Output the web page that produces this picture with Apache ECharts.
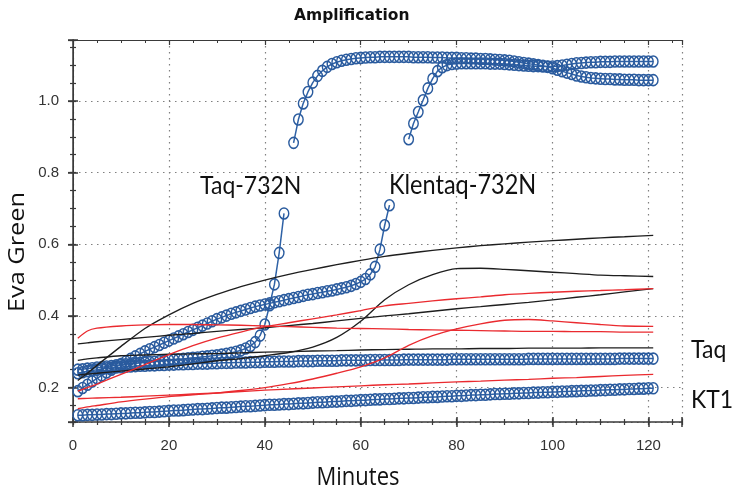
<!DOCTYPE html>
<html><head><meta charset="utf-8">
<script src="https://cdn.jsdelivr.net/npm/echarts@6/dist/echarts.min.js"></script>
<style>html,body{margin:0;padding:0;background:#fff}#c{width:739px;height:493px}</style>
</head><body><div id="c"></div>
<script>
// ---------- data ----------
const minutes = Array.from({length: 121}, (_, i) => i + 1);

const taq732N = [
0.250,0.251,0.253,0.254,0.256,0.257,0.259,0.260,0.262,0.263,
0.265,0.266,0.267,0.269,0.270,0.271,0.272,0.274,0.275,0.277,
0.278,0.279,0.280,0.282,0.283,0.284,0.286,0.287,0.289,0.290,
0.292,0.294,0.297,0.300,0.304,0.309,0.316,0.327,0.345,0.376,
0.430,0.488,0.576,0.686,null,0.883,0.948,0.993,1.025,1.051,
1.070,1.084,1.095,1.103,1.108,1.112,1.115,1.117,1.119,1.120,
1.121,1.122,1.122,1.123,1.123,1.123,1.123,1.123,1.123,1.123,
1.122,1.122,1.122,1.122,1.121,1.121,1.121,1.120,1.120,1.120,
1.119,1.119,1.118,1.118,1.117,1.117,1.116,1.115,1.114,1.113,
1.112,1.110,1.108,1.106,1.104,1.102,1.100,1.098,1.095,1.091,
1.087,1.083,1.079,1.075,1.071,1.068,1.066,1.064,1.063,1.062,
1.061,1.061,1.060,1.060,1.059,1.059,1.059,1.058,1.058,1.058,1.058];

const klentaq732N = [
0.190,0.199,0.208,0.217,0.226,0.234,0.242,0.250,0.258,0.266,
0.273,0.280,0.287,0.294,0.301,0.307,0.313,0.319,0.325,0.331,
0.337,0.343,0.349,0.355,0.361,0.367,0.373,0.379,0.385,0.391,
0.396,0.401,0.406,0.410,0.414,0.418,0.422,0.426,0.429,0.432,
0.435,0.438,0.441,0.444,0.447,0.450,0.453,0.456,0.459,0.461,
0.464,0.466,0.469,0.471,0.474,0.477,0.480,0.484,0.489,0.495,
0.503,0.516,0.537,0.585,0.653,0.709,null,null,null,0.893,
0.937,0.969,1.002,1.035,1.062,1.083,1.094,1.100,1.103,1.104,
1.105,1.105,1.105,1.105,1.105,1.105,1.104,1.104,1.104,1.103,
1.102,1.101,1.100,1.099,1.098,1.097,1.097,1.096,1.096,1.096,
1.097,1.099,1.101,1.103,1.105,1.106,1.107,1.108,1.108,1.109,
1.109,1.109,1.110,1.110,1.110,1.110,1.110,1.110,1.110,1.110,1.110];

const taqControl = [
0.240,0.243,0.246,0.248,0.250,0.252,0.254,0.255,0.256,0.257,
0.258,0.259,0.260,0.261,0.261,0.262,0.262,0.263,0.263,0.264,
0.264,0.265,0.265,0.266,0.266,0.267,0.267,0.267,0.268,0.268,
0.269,0.269,0.269,0.270,0.270,0.270,0.271,0.271,0.271,0.272,
0.272,0.272,0.273,0.273,0.273,0.273,0.274,0.274,0.274,0.274,
0.275,0.275,0.275,0.275,0.275,0.276,0.276,0.276,0.276,0.276,
0.276,0.277,0.277,0.277,0.277,0.277,0.277,0.277,0.278,0.278,
0.278,0.278,0.278,0.278,0.278,0.278,0.278,0.278,0.279,0.279,
0.279,0.279,0.279,0.279,0.279,0.279,0.279,0.279,0.279,0.279,
0.279,0.279,0.279,0.279,0.280,0.280,0.280,0.280,0.280,0.280,
0.280,0.280,0.280,0.280,0.280,0.280,0.280,0.280,0.280,0.280,
0.280,0.280,0.280,0.281,0.281,0.281,0.281,0.281,0.281,0.281,0.281];

const kt1Control = [
0.123,0.123,0.124,0.124,0.125,0.125,0.126,0.126,0.127,0.128,
0.128,0.129,0.130,0.130,0.131,0.132,0.132,0.133,0.134,0.135,
0.136,0.136,0.137,0.138,0.139,0.140,0.140,0.141,0.142,0.143,
0.144,0.144,0.145,0.146,0.147,0.148,0.148,0.149,0.150,0.151,
0.152,0.152,0.153,0.154,0.154,0.155,0.156,0.156,0.157,0.158,
0.159,0.159,0.160,0.161,0.161,0.162,0.163,0.163,0.164,0.165,
0.165,0.166,0.167,0.167,0.168,0.168,0.169,0.170,0.170,0.171,
0.171,0.172,0.173,0.173,0.174,0.174,0.175,0.176,0.176,0.177,
0.177,0.178,0.179,0.179,0.180,0.180,0.181,0.182,0.182,0.183,
0.183,0.184,0.184,0.185,0.185,0.186,0.186,0.187,0.187,0.188,
0.188,0.189,0.189,0.190,0.190,0.191,0.191,0.192,0.192,0.193,
0.193,0.194,0.194,0.195,0.195,0.196,0.196,0.197,0.197,0.198,0.198];

// thin traces, read at these minutes
const traceMinutes = [1,3,5,10,15,20,25,30,35,40,45,50,55,60,65,70,75,80,85,90,95,100,105,110,115,121];
const blackA = [0.220,0.240,0.262,0.315,0.365,0.403,0.435,0.460,0.482,0.500,0.516,0.530,0.543,0.555,0.566,0.575,0.583,0.590,0.596,0.601,0.606,0.610,0.614,0.618,0.621,0.625];
const blackB = [0.322,0.325,0.328,0.334,0.340,0.346,0.351,0.357,0.362,0.367,0.373,0.379,0.386,0.393,0.400,0.406,0.413,0.420,0.426,0.432,0.438,0.445,0.452,0.459,0.467,0.476];
const blackC = [0.276,0.280,0.283,0.289,0.291,0.293,0.294,0.295,0.297,0.299,0.300,0.302,0.303,0.305,0.306,0.307,0.308,0.308,0.309,0.309,0.310,0.310,0.310,0.311,0.311,0.311];
const blackD = [0.235,0.238,0.240,0.246,0.252,0.258,0.266,0.275,0.281,0.289,0.298,0.313,0.340,0.385,0.445,0.487,0.515,0.532,0.533,0.530,0.526,0.522,0.518,0.514,0.512,0.510];
const redA = [0.338,0.358,0.366,0.372,0.375,0.376,0.376,0.375,0.374,0.372,0.370,0.368,0.366,0.365,0.364,0.362,0.361,0.360,0.359,0.358,0.357,0.357,0.356,0.356,0.355,0.355];
const redB = [0.190,0.200,0.210,0.237,0.264,0.292,0.317,0.338,0.355,0.370,0.381,0.392,0.403,0.415,0.428,0.435,0.442,0.448,0.453,0.459,0.463,0.466,0.469,0.471,0.473,0.476];
const redC = [0.169,0.170,0.171,0.173,0.176,0.179,0.182,0.185,0.192,0.200,0.211,0.224,0.240,0.258,0.283,0.318,0.345,0.364,0.378,0.388,0.390,0.386,0.381,0.376,0.372,0.371];
const redD = [0.141,0.146,0.150,0.160,0.168,0.175,0.180,0.185,0.189,0.193,0.196,0.199,0.202,0.205,0.208,0.210,0.213,0.216,0.218,0.221,0.223,0.226,0.228,0.231,0.234,0.237];

const xMajorTicks = [0,20,40,60,80,100,120];
const yMajorTicks = [0.2,0.4,0.6,0.8,1.0];

// ---------- chart ----------
const chart = echarts.init(document.getElementById('c'), null, {renderer: 'canvas'});
const pairs = (xs, ys) => xs.map((x, i) => [x, ys[i]]);
const AX = '#3a3a3a';

function blue(name, arr) {
  return {
    name, type: 'line', data: pairs(minutes, arr), xAxisIndex: 0, yAxisIndex: 0,
    symbol: 'circle', symbolSize: [9.5, 11], showSymbol: true, showAllSymbol: true,
    lineStyle: {color: '#2f62a6', width: 1.5},
    itemStyle: {color: 'rgba(255,255,255,0)', borderColor: '#2a5b9e', borderWidth: 1.5},
    connectNulls: false, z: 2, silent: true, animation: false
  };
}
function thin(name, arr, color) {
  return {
    name, type: 'line', data: pairs(traceMinutes, arr), xAxisIndex: 0, yAxisIndex: 0,
    symbol: 'none', smooth: 0.25,
    lineStyle: {color, width: 1.35}, z: 3, silent: true, animation: false
  };
}
const hidden = {show: false};
function xAx(extra) {
  return Object.assign({type: 'value', min: 0, max: 127, axisLabel: hidden, splitLine: hidden, axisLine: hidden}, extra);
}
function yAx(extra) {
  return Object.assign({type: 'value', min: 0.104, max: 1.17, axisLabel: hidden, splitLine: hidden, axisLine: hidden}, extra);
}

chart.setOption({
  animation: false,
  backgroundColor: '#fff',
  grid: {left: 73, top: 40, right: 57, bottom: 71, containLabel: false},
  xAxis: [
    xAx({position: 'bottom', interval: 20,
      axisLine: {show: true, lineStyle: {color: AX, width: 1.5}},
      axisTick: {show: false},
      axisLabel: {show: true, margin: 16, color: '#333', fontSize: 15, fontFamily: 'Liberation Sans',
        showMaxLabel: false, formatter: v => xMajorTicks.includes(v) ? String(v) : ''},
      splitLine: {show: true, lineStyle: {color: '#808080', width: 1.2, type: [1.5, 4.5]}}}),
    xAx({position: 'bottom', interval: 20, offset: -5, axisTick: {show: true, inside: false, length: 10, lineStyle: {color: AX, width: 1.5}}}),
    xAx({position: 'bottom', interval: 5, offset: -3, axisTick: {show: true, inside: false, length: 6, lineStyle: {color: AX, width: 1.2}}}),
    xAx({position: 'top', interval: 20, axisLine: {show: true, lineStyle: {color: AX, width: 1}},
      axisTick: {show: true, inside: true, length: 5, lineStyle: {color: AX, width: 1.2}}}),
    xAx({position: 'top', interval: 5, axisTick: {show: true, inside: true, length: 3, lineStyle: {color: AX, width: 1}}})
  ],
  yAxis: [
    yAx({position: 'left', splitNumber: 5,
      axisLine: {show: true, lineStyle: {color: AX, width: 1.5}},
      axisTick: {show: false},
      axisLabel: {show: true, margin: 14, color: '#333', fontSize: 15, fontFamily: 'Liberation Sans',
        showMinLabel: false, showMaxLabel: false,
        formatter: v => yMajorTicks.some(t => Math.abs(t - v) < 1e-6) ? v.toFixed(1) : ''},
      splitLine: {show: true, lineStyle: {color: '#808080', width: 1.2, type: [1.5, 4.5]}}}),
    yAx({position: 'left', splitNumber: 5, offset: -5, axisTick: {show: true, inside: false, length: 10, lineStyle: {color: AX, width: 1.5}}}),
    yAx({position: 'left', splitNumber: 21, offset: -3, axisTick: {show: true, inside: false, length: 6, lineStyle: {color: AX, width: 1.2}}}),
    yAx({position: 'right', splitNumber: 5, axisLine: {show: true, lineStyle: {color: AX, width: 1}},
      axisTick: {show: true, inside: true, length: 5, lineStyle: {color: AX, width: 1.2}}}),
    yAx({position: 'right', splitNumber: 21, axisTick: {show: true, inside: true, length: 3, lineStyle: {color: AX, width: 1}}})
  ],
  title: {text: 'Amplification', left: 289, top: 3,
    textStyle: {fontFamily: 'DejaVu Sans', fontWeight: 'bold', fontSize: 15.5, color: '#111'}},
  graphic: [
    {type: 'text', x: 18, y: 252, rotation: Math.PI / 2, scaleX: 1.15,
      style: {text: 'Eva Green', font: '22px "Open Sans"', fill: '#111', align: 'center', verticalAlign: 'middle'}},
    {type: 'text', x: 358, y: 478, scaleY: 1.15,
      style: {text: 'Minutes', font: '22px "Open Sans"', fill: '#111', align: 'center', verticalAlign: 'middle'}},
    {type: 'text', x: 200, y: 186, scaleY: 1.12,
      style: {text: 'Taq-732N', font: '23px Lato', fill: '#111', align: 'left', verticalAlign: 'middle'}},
    {type: 'text', x: 389, y: 186, scaleY: 1.12,
      style: {text: 'Klentaq-732N', font: '23.5px Lato', fill: '#111', align: 'left', verticalAlign: 'middle'}},
    {type: 'text', x: 691, y: 350, scaleY: 1.12,
      style: {text: 'Taq', font: '23px Lato', fill: '#111', align: 'left', verticalAlign: 'middle'}},
    {type: 'text', x: 691, y: 400, scaleY: 1.12,
      style: {text: 'KT1', font: '23px Lato', fill: '#111', align: 'left', verticalAlign: 'middle'}}
  ],
  series: [
    blue('KT1', kt1Control),
    blue('Taq', taqControl),
    blue('Klentaq-732N', klentaq732N),
    blue('Taq-732N', taq732N),
    thin('black A', blackA, '#1e1e1e'),
    thin('black B', blackB, '#1e1e1e'),
    thin('black C', blackC, '#1e1e1e'),
    thin('black D', blackD, '#1e1e1e'),
    thin('red A', redA, '#ea2a2f'),
    thin('red B', redB, '#ea2a2f'),
    thin('red C', redC, '#ea2a2f'),
    thin('red D', redD, '#ea2a2f')
  ]
});
</script></body></html>
